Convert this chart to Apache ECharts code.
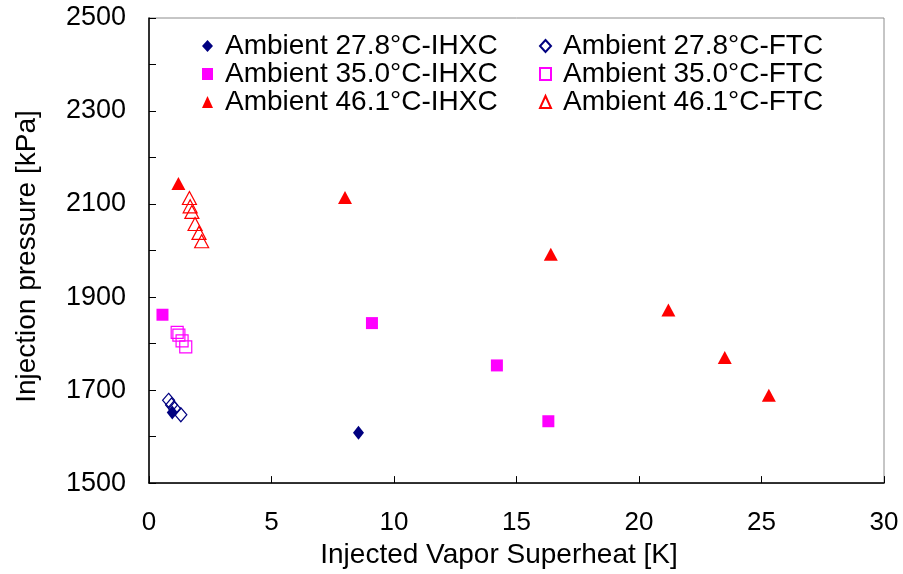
<!DOCTYPE html>
<html>
<head>
<meta charset="utf-8">
<script src="https://cdn.jsdelivr.net/npm/echarts@6/dist/echarts.min.js"></script>
<style>
  html, body { margin: 0; padding: 0; background: #fff; }
  #chart { width: 903px; height: 574px; }
</style>
</head>
<body>
<div id="chart"></div>
<script>
// superheat [K], pressure [kPa]
const amb278IHXC = [[0.95, 1652], [8.55, 1608]]
const amb278FTC = [[0.8, 1678], [0.92, 1668], [1.05, 1660], [1.3, 1647]]
const amb350IHXC = [[0.55, 1862], [9.1, 1844], [14.2, 1753], [16.3, 1633]]
const amb350FTC = [[1.15, 1824], [1.22, 1818], [1.35, 1806], [1.5, 1793]]
const amb461IHXC = [[1.2, 2144], [8.0, 2114], [16.4, 1992], [21.2, 1872], [23.5, 1770], [25.3, 1689]]
const amb461FTC = [[1.65, 2113], [1.68, 2095], [1.75, 2083], [1.88, 2057], [2.04, 2038], [2.15, 2020]]

const seriesNames = [
  'Ambient 27.8°C-IHXC', 'Ambient 27.8°C-FTC',
  'Ambient 35.0°C-IHXC', 'Ambient 35.0°C-FTC',
  'Ambient 46.1°C-IHXC', 'Ambient 46.1°C-FTC',
]

const fontFam = "'Liberation Sans', Arial, sans-serif"
const clear = 'rgba(0,0,0,0)'

function filled(name, data, symbol, color, size) {
  return {
    name, type: 'scatter', data, symbol, symbolSize: size,
    itemStyle: { color: color, opacity: 1 },
  }
}
function hollow(name, data, symbol, color, size) {
  return {
    name, type: 'scatter', data, symbol, symbolSize: size,
    itemStyle: { color: clear, borderColor: color, borderWidth: 1.2, opacity: 1 },
  }
}

const legendText = { fontSize: 28, lineHeight: 26, color: '#000', fontFamily: fontFam, padding: [0, 0, 0, 7] }

const chart = echarts.init(document.getElementById('chart'))
chart.setOption({
  animation: false,
  textStyle: { fontFamily: fontFam },
  grid: {
    left: 149, right: 19, top: 18, bottom: 90,
    show: true, borderColor: '#8c8c8c', borderWidth: 1,
  },
  legend: [
    {
      data: [seriesNames[0], seriesNames[2], seriesNames[4]],
      orient: 'vertical', left: 197, top: 27, itemGap: 0,
      itemWidth: 11, itemHeight: 12,
      textStyle: legendText,
    },
    {
      data: [seriesNames[1], seriesNames[3], seriesNames[5]],
      orient: 'vertical', left: 534, top: 27, itemGap: 0,
      itemWidth: 11, itemHeight: 12,
      textStyle: legendText,
    },
  ],
  xAxis: {
    type: 'value', min: 0, max: 30, interval: 5,
    name: 'Injected Vapor Superheat [K]',
    nameLocation: 'middle', nameGap: 54,
    nameTextStyle: { fontSize: 28, color: '#000', fontFamily: fontFam, padding: [0, 35, 0, 0] },
    axisLine: { lineStyle: { color: '#000', width: 1.5 } },
    axisTick: { inside: true, length: 7, lineStyle: { color: '#000' } },
    axisLabel: { fontSize: 26, color: '#000', margin: 27, fontFamily: fontFam },
    splitLine: { show: false },
  },
  yAxis: {
    type: 'value', min: 1500, max: 2500, interval: 100,
    name: 'Injection pressure [kPa]',
    nameLocation: 'middle', nameGap: 108,
    nameTextStyle: { fontSize: 28, color: '#000', fontFamily: fontFam, padding: [0, 12, 0, 0] },
    axisLine: { show: true, lineStyle: { color: '#000', width: 1.5 } },
    axisTick: { inside: true, length: 7, lineStyle: { color: '#000' } },
    axisLabel: {
      fontSize: 27, color: '#000', margin: 23, fontFamily: fontFam,
      formatter: v => (v % 200 === 100 ? String(v) : ''),
    },
    splitLine: { show: false },
  },
  series: [
    filled(seriesNames[0], amb278IHXC, 'diamond', '#000080', [11, 14]),
    hollow(seriesNames[1], amb278FTC, 'diamond', '#000080', [12, 14]),
    filled(seriesNames[2], amb350IHXC, 'rect', '#ff00ff', 12),
    hollow(seriesNames[3], amb350FTC, 'rect', '#ff00ff', 12),
    filled(seriesNames[4], amb461IHXC, 'triangle', '#ff0000', [14, 13]),
    hollow(seriesNames[5], amb461FTC, 'triangle', '#ff0000', [14, 13]),
  ],
})
</script>
</body>
</html>
